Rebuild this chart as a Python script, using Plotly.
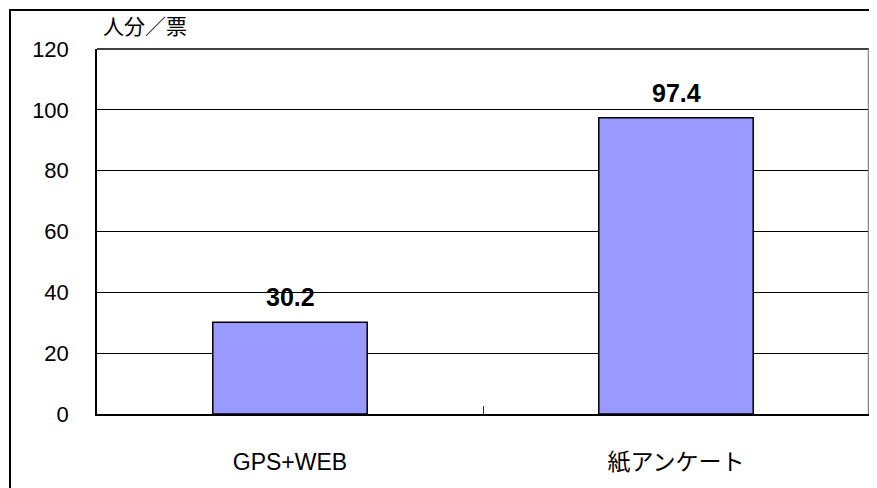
import plotly.graph_objects as go

categories = ["GPS+WEB", "紙アンケート"]
values = [30.2, 97.4]
value_labels = ["30.2", "97.4"]
y_ticks = [0, 20, 40, 60, 80, 100, 120]
unit_label = "人分／票"

FONT = "Liberation Sans, Arial, Noto Sans CJK JP, sans-serif"

# page body has an 8px margin; work in absolute page pixels
OFF = 8
W, H = 869, 480
PL, PT, PR, PB = 97, 49, 869, 414  # plot area in page pixels
L = PL - OFF
T = PT - OFF
R = W + OFF - PR
B = H + OFF - PB
pw, ph = PR - PL, PB - PT


def px(x):
    return (x - PL) / pw


def py(y):
    return (PB - y) / ph


fig = go.Figure()
fig.add_trace(go.Bar(
    x=categories,
    y=values,
    width=0.4,
    marker=dict(color="#9999FF", line=dict(color="black", width=1.5)),
    hoverinfo="skip",
))

annotations = [
    dict(text=f"<b>{t}</b>", x=c, y=v, xref="x", yref="y",
         xanchor="center", yanchor="bottom", yshift=9, showarrow=False,
         font=dict(family=FONT, size=25, color="black"))
    for c, v, t in zip(categories, values, value_labels)
]
annotations.append(dict(
    text=unit_label, xref="paper", yref="paper",
    x=px(101), y=py(40), xanchor="left", yanchor="bottom",
    showarrow=False, font=dict(family=FONT, size=21, color="black"),
))

fig.update_layout(
    width=W, height=H,
    margin=dict(l=L, r=R, t=T, b=B, pad=0),
    paper_bgcolor="white",
    plot_bgcolor="white",
    showlegend=False,
    font=dict(family=FONT, color="black"),
    xaxis=dict(
        type="category",
        showline=True, linecolor="black", linewidth=2,
        ticks="inside", tickson="boundaries", ticklen=8, tickcolor="#333",
        ticklabelstandoff=26,
        tickfont=dict(family=FONT, size=23, color="black"),
        showgrid=False,
        fixedrange=True,
    ),
    yaxis=dict(
        range=[0, 120],
        tickvals=y_ticks,
        showline=True, linecolor="black", linewidth=1.5,
        ticks="", ticklabelstandoff=22,
        showgrid=True, gridcolor="black", gridwidth=1,
        tickfont=dict(family=FONT, size=22, color="black"),
        zeroline=False,
        fixedrange=True,
    ),
    annotations=annotations,
    shapes=[
        dict(type="line", xref="paper", yref="paper", x0=0, x1=1, y0=1, y1=1,
             line=dict(color="black", width=1.5)),
        dict(type="line", xref="paper", yref="paper", x0=1, x1=1, y0=0, y1=1,
             line=dict(color="#888888", width=2.5)),
        dict(type="rect", xref="paper", yref="paper",
             x0=px(10), x1=px(W + OFF + 10), y0=py(H + OFF + 10), y1=py(10),
             line=dict(color="black", width=2), layer="above"),
    ],
)

fig.write_html("out.html")
